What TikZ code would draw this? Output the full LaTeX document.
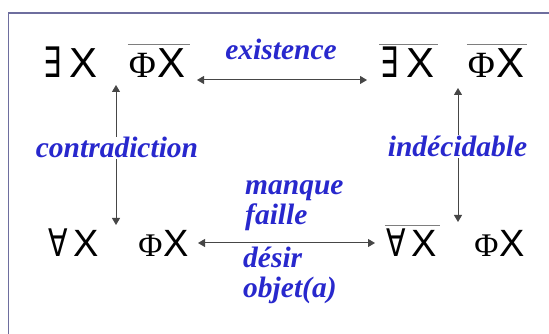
\documentclass[tikz,border=0pt]{standalone}
\usepackage{fontspec}
\usepackage{graphicx}
\setmainfont{Liberation Serif}
\newfontfamily\symf{DejaVu Sans}
\newfontfamily\xf{Liberation Sans}
\newfontfamily\phif{Liberation Serif}
\usetikzlibrary{arrows.meta,calc}
\definecolor{labblue}{RGB}{40,40,205}
\definecolor{framec}{RGB}{110,110,158}
\definecolor{arrc}{RGB}{70,70,70}
\newcommand{\EX}{{\symf\scalebox{0.68}[1]{∃}}\hspace{8pt}{\xf X}}
\newcommand{\AX}{{\symf\scalebox{0.75}[1]{∀}}\hspace{6pt}{\xf X}}
\newcommand{\PXt}{{\phif\fontsize{37}{37}\selectfont Φ}\hspace{1pt}{\xf X}}
\newcommand{\PXb}{{\phif\fontsize{33}{33}\selectfont Φ}\hspace{1pt}{\xf X}}
\begin{document}
\begin{tikzpicture}[x=1pt,y=1pt,
  symtop/.style={inner xsep=1pt,inner ysep=0pt,anchor=base,text height=30pt,text depth=0pt,font=\fontsize{42}{42}\selectfont},
  symbot/.style={inner xsep=1pt,inner ysep=0pt,anchor=base,text height=27pt,text depth=0pt,font=\fontsize{38}{38}\selectfont},
  lab/.style={text=labblue,font=\fontsize{29.5}{30.5}\selectfont\bfseries\itshape,inner sep=1pt},
  arr/.style={draw=arrc,line width=1pt,{Triangle[length=7pt,width=8pt]}-{Triangle[length=7pt,width=8pt]}},
  bar/.style={draw=arrc!70,line width=1.2pt},
  framel/.style={draw=framec,line width=1.5pt}]
\useasboundingbox (0,0) rectangle (549,334);
\fill[white] (0,0) rectangle (549,334);
% frame
\coordinate (fa) at (8.5,0);
\coordinate (fb) at (8.5,321);
\coordinate (fc) at (549,321);
\draw[framel] (fa) -- (fb) -- (fc);
% symbols
\node[symtop] (A1) at (70.5,256) {\EX};
\node[symtop] (A2) at (157,256) {\PXt};
\node[symtop] (B1) at (407.5,256) {\EX};
\node[symtop] (B2) at (496,256) {\PXt};
\node[symbot] (C1) at (73.5,77) {\AX};
\node[symbot] (C2) at (163.5,77) {\PXb};
\node[symbot] (D1) at (411.5,77) {\AX};
\node[symbot] (D2) at (499.5,77) {\PXb};
% overlines
\draw[bar] ([yshift=3pt]A2.north west) -- ([yshift=3pt,xshift=4pt]A2.north east);
\draw[bar] ([yshift=3pt]B1.north west) -- ([yshift=3pt,xshift=2pt]B1.north east);
\draw[bar] ([yshift=3pt]B2.north west) -- ([yshift=3pt,xshift=2pt]B2.north east);
\draw[bar] ([yshift=4pt]D1.north west) -- ([yshift=4pt,xshift=2pt]D1.north east);
% arrow end points
\coordinate (lt) at (116,249);
\coordinate (lb) at (116,109);
\coordinate (rt) at (458,246);
\coordinate (rb) at (458,112);
\coordinate (tl) at (197,254);
\coordinate (tr) at (367,254);
\coordinate (bl) at (198,91);
\coordinate (br) at (375,91);
% arrows
\draw[arr] (tl) -- (tr);
\draw[arr] (bl) -- (br);
\draw[arr] (lt) -- (lb);
\draw[arr] (rt) -- (rb);
% labels
\node[lab,anchor=base] (ex) at (281,274) {existence};
\node[lab,anchor=base,fill=white] (co) at (117,176) {contradiction};
\node[lab,anchor=base,fill=white] (in) at (457.5,177) {indécidable};
\node[lab,anchor=base west,align=left] (mf) at (244,109) {manque\\faille};
\node[lab,anchor=base west,align=left] (dob) at (242,36) {désir\\objet(a)};
\end{tikzpicture}
\end{document}
